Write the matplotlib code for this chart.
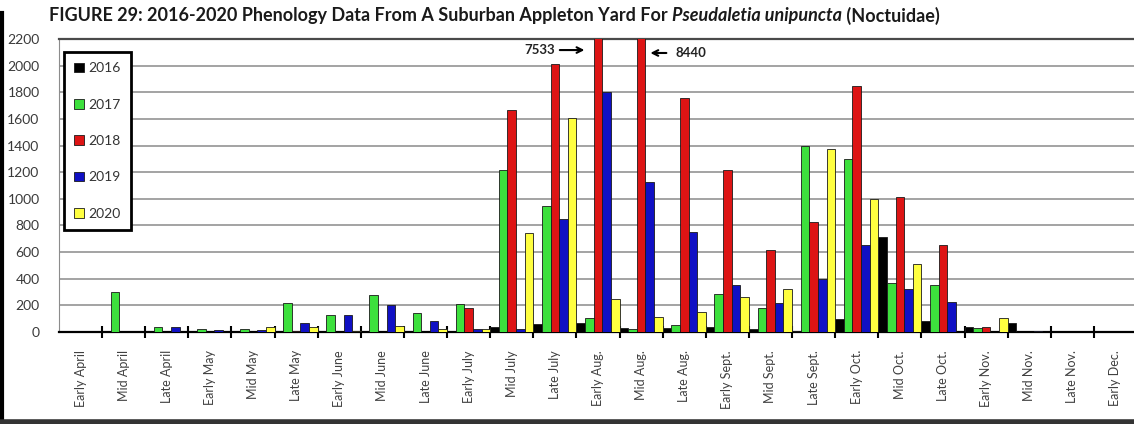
import numpy as np
import matplotlib.pyplot as plt
from matplotlib.lines import Line2D

plt.rcParams['font.family'] = ['Lato', 'DejaVu Sans']

periods = ['Early April', 'Mid April', 'Late April', 'Early May', 'Mid May',
           'Late May', 'Early June', 'Mid June', 'Late June', 'Early July',
           'Mid July', 'Late July', 'Early Aug.', 'Mid Aug.', 'Late Aug.',
           'Early Sept.', 'Mid Sept.', 'Late Sept.', 'Early Oct.', 'Mid Oct.',
           'Late Oct.', 'Early Nov.', 'Mid Nov.', 'Late Nov.', 'Early Dec.']

years = ['2016', '2017', '2018', '2019', '2020']

counts_2016 = [0, 0, 0, 0, 0, 0, 0, 0, 0, 0, 35, 60, 70, 28, 28,
               40, 20, 10, 98, 715, 85, 40, 70, 0, 0]
counts_2017 = [0, 300, 35, 25, 25, 220, 128, 278, 140, 210, 1220, 948, 108, 20, 52,
               288, 183, 1395, 1296, 370, 353, 28, 0, 0, 0]
counts_2018 = [0, 0, 0, 0, 0, 5, 0, 0, 0, 183, 1665, 2010, 7533, 8440, 1760,
               1220, 615, 823, 1850, 1010, 652, 40, 0, 0, 0]
counts_2019 = [0, 0, 35, 15, 15, 65, 128, 203, 83, 20, 20, 845, 1800, 1128, 750,
               353, 215, 400, 656, 323, 222, 0, 10, 0, 0]
counts_2020 = [0, 0, 0, 0, 35, 40, 8, 45, 25, 25, 740, 1610, 248, 115, 148,
               265, 323, 1373, 995, 512, 0, 108, 0, 0, 0]

series = [counts_2016, counts_2017, counts_2018, counts_2019, counts_2020]
colors = ['#000000', '#3de03d', '#dd1414', '#1010c4', '#ffff40']

W, H = 1134, 424
fig = plt.figure(figsize=(W / 100, H / 100), dpi=100)
ax = fig.add_axes([59 / W, 92 / H, 1078 / W, 293 / H])

x = np.arange(len(periods))
bw = 0.2
for i, (vals, col) in enumerate(zip(series, colors)):
    ax.bar(x + (i - 2) * bw, vals, width=bw, color=col, edgecolor='#1a1a1a',
           linewidth=0.6, label=years[i], zorder=3)

ax.set_xlim(-0.5, len(periods) - 0.5)
ax.set_ylim(0, 2200)
ax.set_yticks(range(0, 2201, 200))
ax.yaxis.grid(True, color='#a3a3a3', linewidth=1.4)
ax.set_axisbelow(True)

ax.set_xticks(x)
ax.set_xticklabels(periods, rotation=90, fontsize=9, color='#404040')
ax.set_xticks(np.arange(0.5, len(periods) - 1, 1), minor=True)
ax.tick_params(axis='x', which='major', length=0, pad=13)
ax.tick_params(axis='x', which='minor', direction='inout', length=9, width=1.5, color='black')
ax.tick_params(axis='y', length=0, pad=14, labelsize=10, labelcolor='#3a3a3a')

ax.spines['right'].set_visible(False)
ax.spines['left'].set_color('#8c8c8c')
ax.spines['top'].set_color('#4a4a4a')
ax.spines['top'].set_linewidth(1.6)
ax.spines['bottom'].set_color('black')
ax.spines['bottom'].set_linewidth(1.6)

# off-scale values for 2018
ax.annotate('', xy=(11.75, 2117), xytext=(11.05, 2117),
            arrowprops=dict(arrowstyle='->', lw=1.5, color='black'))
ax.text(11.0, 2117, '7533', ha='right', va='center', fontsize=9.5, fontweight='bold', color='#222222')
ax.annotate('', xy=(13.15, 2095), xytext=(13.65, 2095),
            arrowprops=dict(arrowstyle='->', lw=1.5, color='black'))
ax.text(13.8, 2095, '8440', ha='left', va='center', fontsize=9.5, fontweight='bold', color='#222222')

leg = ax.legend(loc='upper left', bbox_to_anchor=(64 / W, 1 - 52 / H),
                bbox_transform=fig.transFigure, fontsize=10, handlelength=0.7,
                handleheight=0.7, handletextpad=0.3, labelspacing=1.75,
                borderpad=0.75, borderaxespad=0, fancybox=False, framealpha=1,
                edgecolor='black')
leg.get_frame().set_linewidth(2)
for t in leg.get_texts():
    t.set_color('#333333')

# title in pieces so the species name can be italic
fig.canvas.draw()
renderer = fig.canvas.get_renderer()
parts = [('FIGURE 29: 2016-2020 Phenology Data From A Suburban Appleton Yard For ', 'normal'),
         ('Pseudaletia unipuncta', 'italic'),
         (' (Noctuidae)', 'normal')]
xpos = 49 / W
for txt, style in parts:
    t = fig.text(xpos, 1 - 16 / H, txt, ha='left', va='center', fontsize=13,
                 fontweight='bold', fontstyle=style, color='#1a1a1a')
    bb = t.get_window_extent(renderer)
    xpos += bb.width / W

fig.add_artist(Line2D([0.002, 0.002], [0, 0.97], transform=fig.transFigure, color='black', lw=3))
fig.add_artist(Line2D([0, 1], [0.005, 0.005], transform=fig.transFigure, color='#333333', lw=4))

fig.savefig('out.png', dpi=100)
